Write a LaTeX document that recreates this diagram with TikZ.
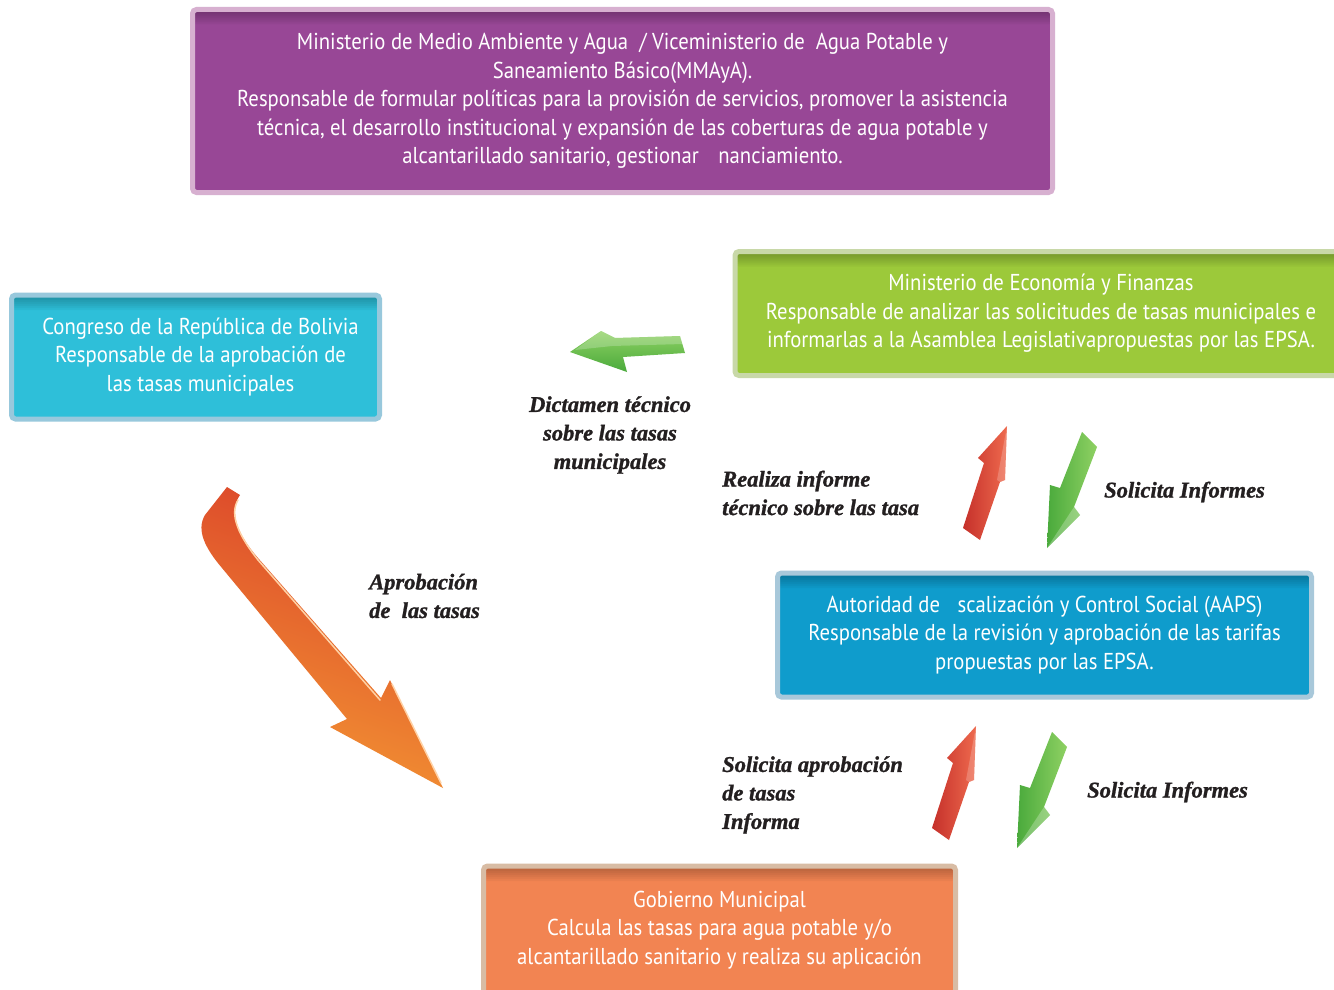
\documentclass[tikz,border=0pt]{standalone}
\usepackage{fontspec}
\setmainfont{PT Sans}
\newfontfamily\boxfont[FakeStretch=0.9]{PT Sans}
\newfontfamily\labfont[FakeBold=1.2]{Liberation Serif}
\definecolor{purplefill}{HTML}{984796}
\definecolor{purpleedge}{HTML}{D7B0D0}
\definecolor{greenfill}{HTML}{9CC93A}
\definecolor{greenedge}{HTML}{C8D8A8}
\definecolor{cyanfill}{HTML}{2EBFD9}
\definecolor{cyanedge}{HTML}{98C8DC}
\definecolor{bluefill}{HTML}{0F9CCC}
\definecolor{blueedge}{HTML}{A8C8DA}
\definecolor{orangefill}{HTML}{F28452}
\definecolor{orangeedge}{HTML}{D8BCA4}
\definecolor{labelcol}{HTML}{231F20}
\definecolor{garrowdark}{HTML}{4AAA3C}
\definecolor{garrowlight}{HTML}{8FD163}
\definecolor{rarrowdark}{HTML}{C5302A}
\definecolor{rarrowlight}{HTML}{EE6A4E}
\definecolor{oarrowred}{HTML}{DB432A}
\definecolor{oarrowmid}{HTML}{EA6A2E}
\definecolor{oarroworange}{HTML}{F39533}
\tikzset{
  boxsty/.style 2 args={fill=#1, draw=#2, line width=5pt, rounded corners=4pt,
    inner sep=0pt, align=center, text=white,
    font=\boxfont\fontsize{23}{28.5}\selectfont,
    path picture={\foreach \k in {3,5,...,15}{
      \fill[black, opacity=0.035]
      ([yshift=3pt]path picture bounding box.north west) rectangle
      ([yshift=-\k pt]path picture bounding box.north east);}}},
  labsty/.style={text=labelcol, inner sep=0pt,
    font=\labfont\bfseries\itshape\fontsize{22.5}{28.5}\selectfont},
}
\begin{document}
\begin{tikzpicture}[x=1pt,y=-1pt]
\useasboundingbox (0,0) rectangle (1334,990);
\fill[white] (0,0) rectangle (1334,990);

% boxes
\node[boxsty={purplefill}{purpleedge}, minimum width=860pt, minimum height=183pt] (mmaya) at (622.5,101)
 {Ministerio de Medio Ambiente y Agua~ / Viceministerio de~ Agua Potable y\\
  Saneamiento Básico(MMAyA).\\
  Responsable de formular políticas para la provisión de servicios, promover la asistencia\\
  técnica, el desarrollo institucional y expansión de las coberturas de agua potable y\\
  alcantarillado sanitario, gestionar \hspace{14pt}nanciamiento.};

\node[boxsty={greenfill}{greenedge}, minimum width=612pt, minimum height=124pt] (mef) at (1041,313.5)
 {Ministerio de Economía y Finanzas\\
  Responsable de analizar las solicitudes de tasas municipales e\\
  informarlas a la Asamblea Legislativapropuestas por las EPSA.};

\node[boxsty={cyanfill}{cyanedge}, minimum width=368pt, minimum height=124pt] (congreso) at (195.5,357)
 {\hspace*{10pt}Congreso de la República de Bolivia\\
  \hspace*{10pt}Responsable de la aprobación de\\
  \hspace*{10pt}las tasas municipales};

\node[boxsty={bluefill}{blueedge}, minimum width=534pt, minimum height=124pt] (aaps) at (1044.5,635)
 {Autoridad de \hspace{12pt}scalización y Control Social (AAPS)\\
  Responsable de la revisión y aprobación de las tarifas\\
  propuestas por las EPSA.};

\node[boxsty={orangefill}{orangeedge}, minimum width=472pt, minimum height=128pt] (gm) at (719.5,930)
 {Gobierno Municipal\\
  Calcula las tasas para agua potable y/o\\
  alcantarillado sanitario y realiza su aplicación};

% labels
\node[labsty, align=center] (dictamen) at (610,435) {Dictamen técnico\\sobre las tasas\\municipales};
\node[labsty, align=left, anchor=west] (realiza) at (722,493) {Realiza informe\\técnico sobre las tasa};
\node[labsty, anchor=west] (solinf1) at (1104,492) {Solicita Informes};
\node[labsty, align=left, anchor=west] (aprob) at (369,596) {Aprobación\\de~ las tasas};
\node[labsty, align=left, anchor=west] (solapr) at (722,795) {Solicita aprobación\\de tasas\\Informa};
\node[labsty, anchor=west] (solinf2) at (1087,792) {Solicita Informes};

% green left arrow (dictamen)
\shade[top color=garrowlight, bottom color=garrowdark]
  (570,352) -- (601,331) -- (615,338) -- (680,336) -- (685,353) -- (623,357) -- (627,372) -- cycle;
\fill[white, opacity=0.22] (601,331) -- (615,338) -- (680,336) -- (683,344) -- (612,346) -- (575,350) -- cycle;

% red up arrows
\foreach \dx/\dy in {0/0, -31/300}{
  \begin{scope}[shift={(\dx,\dy)}]
  \shade[left color=rarrowdark, right color=rarrowlight]
    (1007,426) -- (978,458) -- (984,463) -- (963,528) -- (980,540) -- (1000,482) -- (1005,480) -- cycle;
  \fill[white, opacity=0.2] (1007,426) -- (1005,480) -- (1000,482) -- (997,480) -- cycle;
  \end{scope}
}
% green down arrows
\foreach \dx/\dy in {0/0, -30/300}{
  \begin{scope}[shift={(\dx,\dy)}]
  \shade[left color=garrowdark, right color=garrowlight]
    (1047,548) -- (1050,485) -- (1060,488) -- (1082,432) -- (1097,447) -- (1074,507) -- (1080,515) -- cycle;
  \fill[white, opacity=0.25] (1047,548) -- (1074,507) -- (1080,515) -- cycle;
  \end{scope}
}

% big orange arrow (aprobacion)
\shade[top color=oarrowred, middle color=oarrowmid, bottom color=oarroworange, shading angle=-20]
  (227,487) -- (240,495)
  .. controls (228,512) and (238,535) .. (258,558)
  -- (381,698) -- (390,680) -- (443,788) -- (330,727) -- (347,719)
  -- (222,568)
  .. controls (205,548) and (196,530) .. (205,515)
  -- cycle;
\draw[orange!35!white, line width=1.5pt, line cap=round]
  (238,500) .. controls (229,515) and (239,536) .. (258,560) -- (380,700);
\draw[orange!35!white, line width=1.5pt, line cap=round] (392,684) -- (441,783);
\end{tikzpicture}
\end{document}
